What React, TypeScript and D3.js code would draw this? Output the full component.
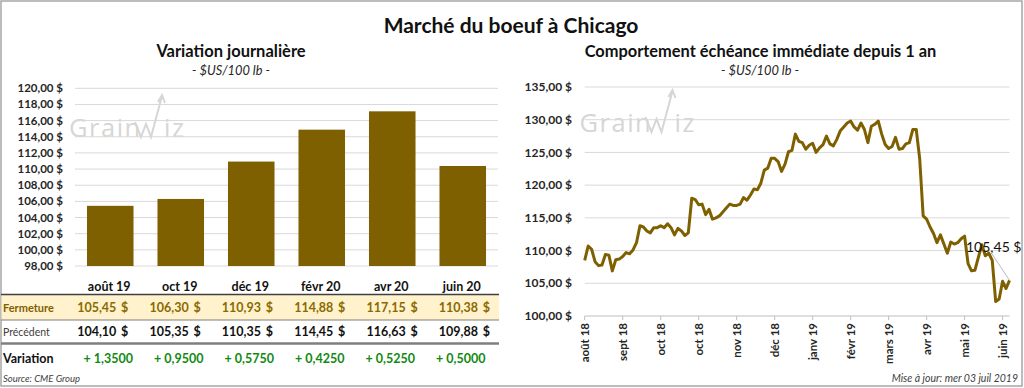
import * as d3 from 'd3';

// Left panel: nearby contracts
const echeances = ['août 19', 'oct 19', 'déc 19', 'févr 20', 'avr 20', 'juin 20'];
const fermeture = [105.45, 106.3, 110.93, 114.88, 117.15, 110.38];
const precedent = [104.1, 105.35, 110.35, 114.45, 116.63, 109.88];
const variation = [1.35, 0.95, 0.575, 0.425, 0.525, 0.5];
const barTicks = [98, 100, 102, 104, 106, 108, 110, 112, 114, 116, 118, 120];

// Right panel: front month over one year (approx. every other session)
const moisLabels = [
  'août 18', 'sept 18', 'oct 18', 'oct 18', 'nov 18', 'déc 18',
  'janv 19', 'févr 19', 'mars 19', 'avr 19', 'mai 19', 'juin 19',
];
const prix = [
  108.5, 110.7, 110.2, 108.3, 107.7, 107.8, 109.4, 109.3, 106.9, 108.6,
  108.7, 109.1, 109.7, 109.5, 110.1, 111.2, 113.8, 113.6, 113.0, 112.7,
  113.5, 113.5, 113.8, 113.5, 114.1, 113.5, 112.4, 113.4, 113.0, 112.3,
  112.7, 118.0, 117.8, 117.0, 117.1, 115.5, 116.3, 114.8, 115.0, 115.3,
  115.9, 116.5, 117.1, 116.9, 116.9, 117.1, 118.1, 117.7, 118.5, 119.4,
  119.3, 120.3, 122.3, 122.6, 124.1, 124.1, 123.6, 122.1, 123.2, 125.1,
  125.3, 127.8, 126.7, 126.5, 125.5, 126.1, 126.4, 125.0, 125.7, 126.2,
  127.5, 126.3, 126.0, 127.0, 128.3, 128.9, 129.5, 129.8, 128.9, 128.4,
  129.5, 128.5, 126.5, 129.0, 129.3, 129.8, 127.8, 126.2, 125.6, 125.9,
  127.3, 125.5, 125.6, 126.3, 126.5, 128.5, 128.5, 124.0, 115.3, 114.8,
  113.6, 112.6, 111.2, 112.4, 111.0, 109.6, 111.3, 111.0, 111.2, 111.8,
  112.2, 108.0, 106.9, 107.0, 109.0, 110.9, 109.2, 109.6, 108.5, 102.2,
  102.6, 105.3, 104.2, 105.45,
];
const lineTicks = [100, 105, 110, 115, 120, 125, 130, 135];
const tickStep = 11; // sessions between two axis labels

const GOLD = '#7f6000';
const GRID = '#d9d9d9';
const TEXT = '#262626';
const FONT = 'Lato, "Open Sans", sans-serif';
const WM_FONT = '"Open Sans", sans-serif';

const fr = (v: number, d = 2) => v.toFixed(d).replace('.', ',');

function Watermark({ x, y }: { x: number; y: number }) {
  const c = '#d6d6d6';
  return (
    <g transform={`translate(${x}, ${y})`} fill={c}>
      <text x={0} y={0} fontSize={25.5} letterSpacing={1.5} fontFamily={WM_FONT}>
        Grain
      </text>
      <path
        d="M66,-15 L72,0 L77,-13 L82,0 L93,-41 M89,-35 L93,-42 L96,-34"
        fill="none"
        stroke={c}
        strokeWidth={2}
      />
      <text x={95} y={0} fontSize={25.5} letterSpacing={1.5} fontFamily={WM_FONT}>
        iz
      </text>
    </g>
  );
}

export default function App() {
  const xBar = d3
    .scaleBand<string>()
    .domain(echeances)
    .range([75, 498])
    .paddingInner(0.34)
    .paddingOuter(0.17);
  const yBar = d3.scaleLinear().domain([98, 120]).range([266, 88.3]);
  // table cells are a little wider than the bar slots
  const xCol = d3.scaleBand<string>().domain(echeances).range([56, 490]);

  const xLine = d3.scaleLinear().domain([0, prix.length - 1]).range([584.7, 1009.5]);
  const yLine = d3.scaleLinear().domain([100, 135]).range([316, 87]);
  const lineGen = d3
    .line<number>()
    .x((_, i) => xLine(i))
    .y((d) => yLine(d));

  const last = prix[prix.length - 1];
  const bw = xBar.bandwidth();

  return (
    <svg
      width={1024}
      height={388}
      style={{ position: 'absolute', left: 0, top: 0, fontFamily: FONT }}
    >
      <rect x={1} y={1} width={1021} height={385} fill="#fff" stroke="#a6a6a6" strokeWidth={1.5} />

      <text x={511} y={33} textAnchor="middle" fontSize={21} fontWeight={700} fill="#111">
        Marché du boeuf à Chicago
      </text>

      {/* Left panel titles */}
      <text x={231} y={57} textAnchor="middle" fontSize={16.5} fontWeight={700} fill="#111">
        Variation journalière
      </text>
      <text x={231} y={75} textAnchor="middle" fontSize={12.8} fontStyle="italic" fill={TEXT}>
        - $US/100 lb -
      </text>

      <Watermark x={69} y={137} />

      {barTicks.map((t) => (
        <g key={`bg-${t}`}>
          <line x1={75} x2={498} y1={yBar(t)} y2={yBar(t)} stroke={GRID} strokeWidth={1} />
          <text
            x={63}
            y={yBar(t)}
            dy="0.35em"
            textAnchor="end"
            fontSize={11.5}
            fontWeight={700}
            fill={TEXT}
          >
            {fr(t)} $
          </text>
        </g>
      ))}

      {echeances.map((m, i) => (
        <rect
          key={`bar-${m}`}
          x={xBar(m)}
          y={yBar(fermeture[i])}
          width={bw}
          height={yBar(98) - yBar(fermeture[i])}
          fill={GOLD}
        />
      ))}

      {/* Table under the bars */}
      <rect x={1.5} y={295} width={497.5} height={25} fill="#fff2cc" />
      <line x1={1} x2={499} y1={294.5} y2={294.5} stroke="#404040" strokeWidth={1.5} />
      <line x1={1} x2={499} y1={320} y2={320} stroke="#7f7f7f" strokeWidth={1} />
      <line x1={1} x2={499} y1={343.5} y2={343.5} stroke="#7f7f7f" strokeWidth={2.5} />

      <text x={3} y={312} fontSize={11} fontWeight={700} fill={GOLD}>
        Fermeture
      </text>
      <text x={3} y={336} fontSize={10.5} fill="#404040">
        Précédent
      </text>
      <text x={3} y={363} fontSize={12.5} fontWeight={700} fill="#111">
        Variation
      </text>

      {echeances.map((m, i) => {
        const cx = (xBar(m) ?? 0) + bw / 2;
        const right = (xCol(m) ?? 0) + xCol.bandwidth();
        return (
          <g key={`col-${m}`} fontSize={12.5} fontWeight={700}>
            <text x={cx - 1} y={290.5} textAnchor="middle" fill="#111">
              {m}
            </text>
            <text x={right - 12} y={312} textAnchor="end" fill="#8a6a00">
              {fr(fermeture[i])}
            </text>
            <text x={right} y={312} textAnchor="end" fill="#8a6a00">
              $
            </text>
            <text x={right - 12} y={336} textAnchor="end" fill="#111">
              {fr(precedent[i])}
            </text>
            <text x={right} y={336} textAnchor="end" fill="#111">
              $
            </text>
            <text x={cx - 2} y={363} textAnchor="middle" fill="#128a12">
              {`${variation[i] >= 0 ? '+' : '-'} ${fr(Math.abs(variation[i]), 4)}`}
            </text>
          </g>
        );
      })}

      <text x={3} y={382} fontSize={9.5} fontStyle="italic" fill="#404040">
        Source: CME Group
      </text>

      {/* Right panel */}
      <text x={760.5} y={57} textAnchor="middle" fontSize={16.4} fontWeight={700} fill="#111">
        Comportement échéance immédiate depuis 1 an
      </text>
      <text x={760} y={75} textAnchor="middle" fontSize={12.8} fontStyle="italic" fill={TEXT}>
        - $US/100 lb -
      </text>

      <Watermark x={579.5} y={132} />

      {lineTicks.map((t) => (
        <g key={`lg-${t}`}>
          <line
            x1={584.7}
            x2={1009.5}
            y1={yLine(t)}
            y2={yLine(t)}
            stroke={t === 100 ? '#bfbfbf' : GRID}
            strokeWidth={1}
          />
          <text
            x={572}
            y={yLine(t)}
            dy="0.35em"
            textAnchor="end"
            fontSize={12}
            fontWeight={700}
            fill={TEXT}
          >
            {fr(t)} $
          </text>
        </g>
      ))}

      {moisLabels.map((lbl, k) => {
        const tx = xLine(k * tickStep);
        return (
          <g key={`xt-${k}`}>
            <line x1={tx} x2={tx} y1={316} y2={320} stroke="#bfbfbf" strokeWidth={1} />
            <text
              transform={`translate(${tx}, 323) rotate(-90)`}
              dy="0.35em"
              textAnchor="end"
              fontSize={11.5}
              fontWeight={700}
              fill={TEXT}
            >
              {lbl}
            </text>
          </g>
        );
      })}

      <path
        d={lineGen(prix) ?? undefined}
        fill="none"
        stroke={GOLD}
        strokeWidth={3}
        strokeLinejoin="round"
      />

      <line
        x1={992}
        y1={254}
        x2={xLine(prix.length - 1)}
        y2={yLine(last)}
        stroke="#a6a6a6"
        strokeWidth={0.8}
      />
      <text x={966} y={251.5} fontSize={14} fill="#111">
        {fr(last)} $
      </text>

      <text x={1018} y={381.5} textAnchor="end" fontSize={10.5} fontStyle="italic" fill="#404040">
        Mise à jour: mer 03 juil 2019
      </text>
    </svg>
  );
}
